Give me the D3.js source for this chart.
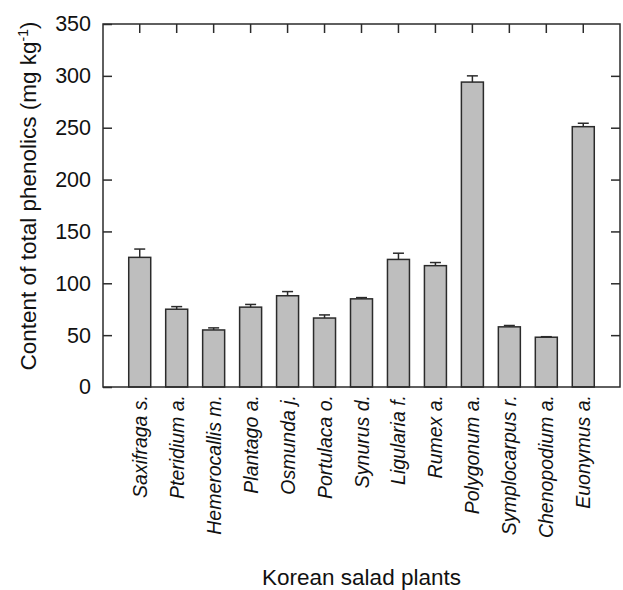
<!DOCTYPE html>
<html>
<head>
<meta charset="utf-8">
<script src="https://cdn.jsdelivr.net/npm/d3@7"></script>
<style>
  html, body { margin: 0; padding: 0; background: #fff; }
  svg { display: block; font-family: "Liberation Sans", Arial, Helvetica, sans-serif; }
</style>
</head>
<body>
<svg id="chart" width="623" height="590"></svg>
<script>
// Total phenolics content of Korean salad plants (mean, upper SD bar)
const plants = ["Saxifraga s.", "Pteridium a.", "Hemerocallis m.", "Plantago a.", "Osmunda j.",
  "Portulaca o.", "Synurus d.", "Ligularia f.", "Rumex a.", "Polygonum a.",
  "Symplocarpus r.", "Chenopodium a.", "Euonymus a."];
const phenolics = [125, 75, 55, 77, 88, 66.5, 85, 123, 117, 294, 58, 48, 251];
const errors = [8, 2.5, 2, 2.6, 4, 3, 1.2, 6, 3, 6, 1.3, 0.5, 3.3];
const yTicks = [0, 50, 100, 150, 200, 250, 300, 350];

const svg = d3.select("#chart");
const plotL = 103, plotR = 620, plotT = 24, plotB = 387;
const ink = "#2b2b2b";

const x = d3.scaleBand().domain(plants).range([plotL, plotR])
  .paddingInner(0.405).paddingOuter(0.696);
const y = d3.scaleLinear().domain([0, 350]).range([plotB, plotT]);

// bars
svg.append("g").selectAll("rect").data(plants).join("rect")
  .attr("x", d => x(d))
  .attr("y", (d, i) => y(phenolics[i]))
  .attr("width", x.bandwidth())
  .attr("height", (d, i) => y(0) - y(phenolics[i]))
  .attr("fill", "#bebebe")
  .attr("stroke", ink)
  .attr("stroke-width", 1.5);

// error bars (upper only)
const eb = svg.append("g").attr("stroke", ink).attr("stroke-width", 1.5);
plants.forEach((p, i) => {
  const cx = x(p) + x.bandwidth() / 2;
  eb.append("line").attr("x1", cx).attr("x2", cx)
    .attr("y1", y(phenolics[i])).attr("y2", y(phenolics[i] + errors[i]));
  eb.append("line").attr("x1", cx - 5.5).attr("x2", cx + 5.5)
    .attr("y1", y(phenolics[i] + errors[i])).attr("y2", y(phenolics[i] + errors[i]));
});

// frame
svg.append("rect").attr("x", plotL).attr("y", plotT)
  .attr("width", plotR - plotL).attr("height", plotB - plotT)
  .attr("fill", "none").attr("stroke", ink).attr("stroke-width", 1.5);

// left axis (inward ticks)
const yAxisL = svg.append("g").attr("transform", `translate(${plotL},0)`)
  .call(d3.axisLeft(y).tickValues(yTicks).tickSizeInner(-9).tickSizeOuter(0).tickPadding(12));
yAxisL.select(".domain").remove();
yAxisL.selectAll("line").attr("stroke", ink).attr("stroke-width", 1.5);
yAxisL.selectAll("text").attr("font-size", 21.5).attr("fill", "#111")
  .attr("font-family", "'Liberation Sans', Arial, sans-serif");

// right axis ticks
const yAxisR = svg.append("g").attr("transform", `translate(${plotR},0)`)
  .call(d3.axisRight(y).tickValues(yTicks.slice(1, -1)).tickSizeInner(-9).tickSizeOuter(0).tickFormat(""));
yAxisR.select(".domain").remove();
yAxisR.selectAll("line").attr("stroke", ink).attr("stroke-width", 1.5);

// top axis ticks at category centres
const xTop = svg.append("g").attr("transform", `translate(0,${plotT})`)
  .call(d3.axisTop(x).tickSizeInner(-9).tickSizeOuter(0).tickFormat(""));
xTop.select(".domain").remove();
xTop.selectAll("line").attr("stroke", ink).attr("stroke-width", 1.5);

// category labels, rotated
svg.append("g").selectAll("text").data(plants).join("text")
  .attr("transform", d => `translate(${x(d) + x.bandwidth() / 2 + 7},${plotB + 8}) rotate(-90)`)
  .attr("text-anchor", "end")
  .attr("font-size", 19.5)
  .attr("font-style", "italic")
  .attr("fill", "#111")
  .text(d => d);

// x axis title
svg.append("text")
  .attr("x", 361.5).attr("y", 585)
  .attr("text-anchor", "middle").attr("font-size", 22.5).attr("fill", "#111")
  .text("Korean salad plants");

// y axis title with superscript
const yt = svg.append("text")
  .attr("transform", "translate(36,196) rotate(-90)")
  .attr("text-anchor", "middle").attr("font-size", 22.5).attr("fill", "#111");
yt.append("tspan").text("Content of total phenolics (mg kg");
yt.append("tspan").attr("dy", -8).attr("font-size", 14).text("-1");
yt.append("tspan").attr("dy", 8).text(")");
</script>
</body>
</html>
